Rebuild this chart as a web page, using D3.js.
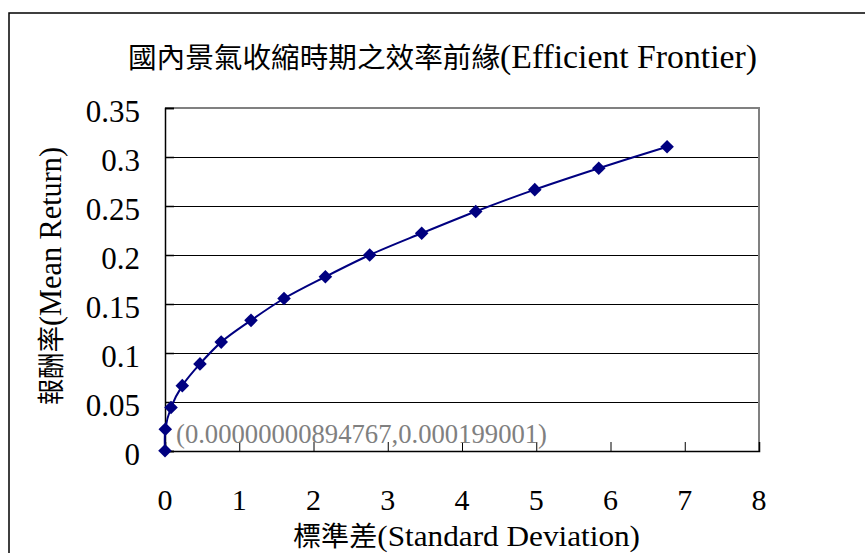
<!DOCTYPE html>
<html>
<head>
<meta charset="utf-8">
<script src="https://cdn.jsdelivr.net/npm/d3@7"></script>
<style>
  html, body { margin: 0; padding: 0; background: #fff; }
  svg { display: block; }
  text { font-family: "Liberation Serif", "Times New Roman", "Noto Sans CJK TC", serif; }
</style>
</head>
<body>
<svg id="chart" width="865" height="553"></svg>
<script>
// Efficient frontier during domestic economic contraction
const stdDev = [0.00000000894767, 0.004, 0.081, 0.233, 0.471, 0.757, 1.158, 1.603, 2.160, 2.757, 3.457, 4.185, 4.980, 5.842, 6.762];
const meanReturn = [0.000199001, 0.0222, 0.0444, 0.0667, 0.0889, 0.1111, 0.1333, 0.1556, 0.1778, 0.2000, 0.2222, 0.2444, 0.2667, 0.2885, 0.3105];
const xTicks = [0, 1, 2, 3, 4, 5, 6, 7, 8];
const yTicks = [0, 0.05, 0.1, 0.15, 0.2, 0.25, 0.3, 0.35];
const yTickLabels = ["0", "0.05", "0.1", "0.15", "0.2", "0.25", "0.3", "0.35"];
const titleParts = ["國內景氣收縮時期之效率前緣", "(Efficient Frontier)"];
const xTitleParts = ["標準差", "(Standard Deviation)"];
const yTitleParts = ["報酬率", "(Mean Return)"];
const pointLabel = "(0.00000000894767,0.000199001)";

const svg = d3.select("#chart");
const plot = { left: 165, right: 759, top: 108, bottom: 451 };

const x = d3.scaleLinear().domain([0, 8]).range([plot.left, plot.right]);
const y = d3.scaleLinear().domain([0, 0.35]).range([plot.bottom, plot.top]);

// Outer chart frame
svg.append("rect")
  .attr("x", 9).attr("y", 13)
  .attr("width", 900).attr("height", 600)
  .attr("fill", "#fff").attr("stroke", "#000").attr("stroke-width", 1.5);

// Text with a CJK part and a condensed Latin part
function mixedText(sel, parts, cjkSize, latinSize, length) {
  const t = sel.append("text")
    .attr("textLength", length).attr("lengthAdjust", "spacingAndGlyphs")
    .attr("fill", "#000");
  t.append("tspan").attr("font-size", cjkSize).text(parts[0]);
  t.append("tspan").attr("font-size", latinSize).text(parts[1]);
  return t;
}

// Title
mixedText(svg, titleParts, 28, 33, 629).attr("x", 128).attr("y", 68);

// Horizontal gridlines
svg.append("g")
  .selectAll("line")
  .data(yTicks.filter(v => v > 0 && v < 0.35))
  .join("line")
  .attr("x1", plot.left).attr("x2", plot.right)
  .attr("y1", d => Math.round(y(d)) + 0.5).attr("y2", d => Math.round(y(d)) + 0.5)
  .attr("stroke", "#000").attr("stroke-width", 1);

// Plot area top and right border
svg.append("path")
  .attr("d", `M${plot.left},${plot.top} H${plot.right} V${plot.bottom}`)
  .attr("fill", "none").attr("stroke", "#808080").attr("stroke-width", 2);

// Y axis (ticks inside)
const yAxis = d3.axisRight(y).tickValues(yTicks).tickSize(9).tickFormat("");
const gy = svg.append("g").attr("transform", `translate(${plot.left},0)`).call(yAxis);
gy.select(".domain").attr("stroke", "#000").attr("stroke-width", 1.5);
gy.selectAll(".tick line").attr("stroke", "#000").attr("stroke-width", 1.5);

// X axis (ticks inside)
const xAxis = d3.axisTop(x).tickValues(xTicks).tickSize(9).tickFormat("");
const gx = svg.append("g").attr("transform", `translate(0,${plot.bottom})`).call(xAxis);
gx.select(".domain").attr("stroke", "#000").attr("stroke-width", 1.5);
gx.selectAll(".tick line").attr("stroke", "#000").attr("stroke-width", 1);

// Y tick labels
svg.append("g")
  .selectAll("text")
  .data(yTicks)
  .join("text")
  .attr("x", 140)
  .attr("y", d => y(d) + 14)
  .attr("text-anchor", "end")
  .attr("font-size", 31)
  .attr("fill", "#000")
  .text((d, i) => yTickLabels[i]);

// X tick labels
svg.append("g")
  .selectAll("text")
  .data(xTicks)
  .join("text")
  .attr("x", d => x(d))
  .attr("y", 510)
  .attr("text-anchor", "middle")
  .attr("font-size", 30)
  .attr("fill", "#000")
  .text(d => d);

// Axis titles
mixedText(svg, xTitleParts, 27, 30, 347).attr("x", 293).attr("y", 546);
mixedText(svg, yTitleParts, 27, 31, 258).attr("transform", "translate(61,405) rotate(-90)");

// Frontier curve
const pts = stdDev.map((s, i) => [s, meanReturn[i]]);
const line = d3.line()
  .x(d => x(d[0]))
  .y(d => y(d[1]))
  .curve(d3.curveCatmullRom.alpha(0.5));

svg.append("path")
  .datum(pts)
  .attr("d", line)
  .attr("fill", "none")
  .attr("stroke", "#000080")
  .attr("stroke-width", 2);

// Diamond markers
const diamond = d3.symbol().type(d3.symbolSquare).size(92);
svg.append("g")
  .selectAll("path")
  .data(pts)
  .join("path")
  .attr("d", diamond)
  .attr("transform", d => `translate(${x(d[0])},${y(d[1])}) rotate(45)`)
  .attr("fill", "#000080");

// Data label for the minimum point
svg.append("text")
  .attr("x", x(stdDev[0]) + 11)
  .attr("y", y(meanReturn[0]) - 8)
  .attr("font-size", 27)
  .attr("textLength", 371).attr("lengthAdjust", "spacingAndGlyphs")
  .attr("fill", "#808080")
  .text(pointLabel);
</script>
</body>
</html>
